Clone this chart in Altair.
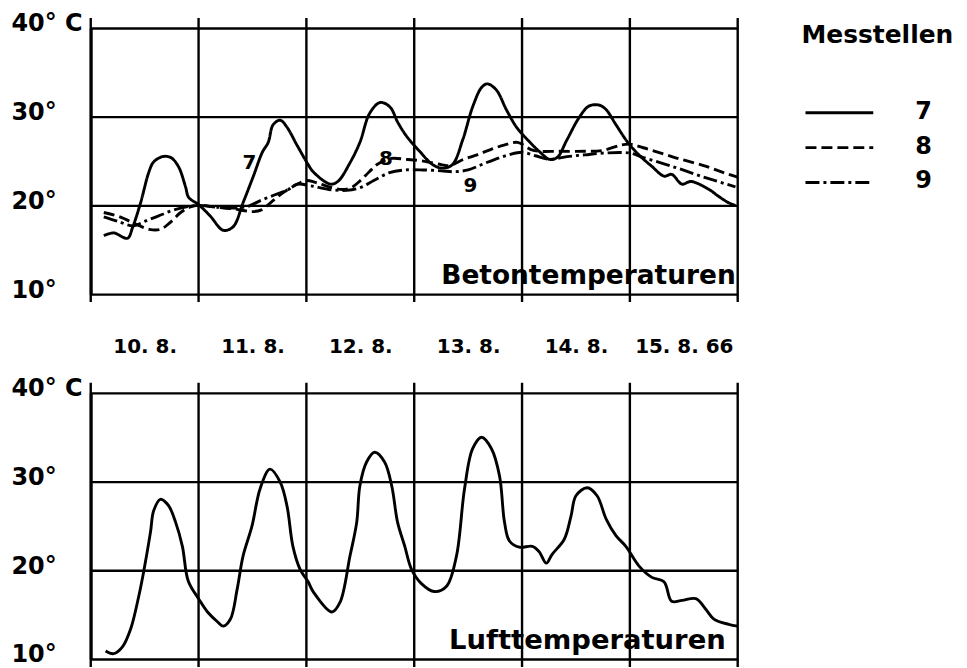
import json
import altair as alt
import pandas as pd

FONT = "DejaVu Sans"

# ---- data ----
day_labels = ["10. 8.", "11. 8.", "12. 8.", "13. 8.", "14. 8.", "15. 8. 66"]
day_bounds = [0, 24, 48, 72, 96, 120, 144]
label_hours = [12, 36, 60, 84, 108, 132]
y_ticks = [10, 20, 30, 40]
y_tick_labels = ["10°", "20°", "30°", "40° C"]
series_names = ["7", "8", "9"]
legend_title = "Messtellen"

# Messstelle 7 (solid)
t7_h = [2.9, 5.1, 8.2, 9.3, 11.1, 12.9, 14.0, 16.0, 17.8, 19.5, 21.1, 21.8, 24.0, 26.6,
        29.5, 31.7, 33.9, 36.2, 38.2, 39.5, 40.6, 42.2, 43.7, 45.9, 48.4, 49.5, 53.3,
        55.0, 57.7, 59.9, 62.1, 64.4, 66.6, 68.3, 70.3, 73.2, 76.1, 78.3, 80.5, 82.8,
        85.0, 87.0, 88.3, 90.3, 92.5, 94.8, 97.6, 99.8, 102.1, 103.8, 106.0, 108.7,
        110.9, 113.2, 114.7, 116.9, 119.4, 122.0, 124.9, 127.6, 129.3, 131.6, 133.6,
        137.6, 139.8, 142.0, 143.5]
t7_v = [16.6, 16.9, 16.3, 17.5, 20.3, 23.7, 24.9, 25.5, 25.4, 24.4, 22.1, 20.9, 20.1, 18.8,
        17.2, 17.6, 20.3, 23.3, 26.0, 27.1, 29.1, 29.6, 28.8, 26.8, 24.6, 23.8, 22.4,
        22.7, 24.8, 27.1, 30.4, 31.6, 31.1, 29.4, 27.8, 26.1, 24.6, 24.2, 24.6, 27.4,
        31.1, 33.3, 33.7, 33.0, 30.8, 28.8, 27.2, 26.1, 25.2, 25.4, 27.4, 29.9,
        31.2, 31.3, 30.8, 29.1, 27.2, 25.7, 24.4, 23.3, 23.5, 22.4, 22.7,
        21.8, 21.0, 20.3, 20.0]

# Messstelle 8 (dashed)
t8_h = [2.9, 6.5, 10.0, 13.0, 15.5, 17.5, 20.0, 22.0, 24.0, 28.0, 32.0, 36.0, 38.0, 40.0,
        43.0, 46.0, 48.0, 50.0, 53.0, 56.0, 58.0, 60.0, 62.0, 64.0, 67.0, 70.0, 74.0,
        78.0, 80.0, 83.0, 86.0, 89.0, 92.0, 95.0, 98.0, 100.0, 104.0, 110.0, 114.0,
        118.0, 120.0, 123.0, 130.0, 137.0, 142.0, 144.0]
t8_v = [19.2, 18.7, 17.9, 17.3, 17.3, 18.0, 19.2, 19.8, 20.0, 19.8, 19.6, 19.3, 19.5, 20.3,
        21.5, 22.4, 22.8, 22.6, 22.1, 21.8, 22.0, 22.8, 23.8, 24.7, 25.3, 25.2, 25.0,
        24.6, 24.5, 25.2, 25.7, 26.3, 26.8, 27.1, 26.3, 26.1, 26.1, 26.1, 26.2,
        26.8, 26.9, 26.5, 25.4, 24.4, 23.5, 23.2]

# Messstelle 9 (dash-dot)
t9_h = [2.9, 6.0, 9.5, 12.0, 15.0, 18.0, 21.0, 24.0, 28.0, 32.0, 35.0, 38.0, 41.0, 44.0,
        46.0, 49.0, 53.0, 57.0, 60.0, 63.0, 66.5, 70.0, 74.0, 78.0, 81.0, 84.0, 87.0,
        90.0, 93.0, 96.0, 99.0, 102.0, 106.0, 110.0, 114.0, 120.0, 123.0, 130.0, 137.0,
        143.5]
t9_v = [18.7, 18.2, 17.7, 18.2, 18.8, 19.4, 19.8, 20.0, 19.8, 19.7, 19.9, 20.6, 21.2, 21.8,
        22.4, 22.2, 21.8, 21.7, 22.0, 22.8, 23.7, 24.0, 24.0, 23.9, 23.8, 24.0, 24.6,
        25.2, 25.7, 26.0, 25.6, 25.2, 25.5, 25.7, 25.9, 25.9, 25.4, 24.3, 23.1,
        22.1]

# Lufttemperatur
air_h = [3.3, 5.1, 7.1, 8.9, 10.7, 11.8, 13.3, 14.0, 15.5, 17.3, 18.9, 20.4, 21.7, 24.0,
         26.0, 28.2, 29.5, 31.1, 32.6, 33.9, 35.9, 37.7, 39.9, 42.2, 43.7, 45.0, 46.6,
         48.4, 49.5, 53.7, 55.5, 57.7, 59.2, 59.9, 61.4, 63.2, 65.4, 67.0, 68.3, 69.9,
         71.4, 73.6, 76.5, 79.2, 81.4, 83.2, 85.0, 87.0, 89.2, 91.0, 92.1, 93.2, 95.4,
         98.3, 99.8, 101.4, 102.7, 105.4, 106.9, 108.0, 110.5, 112.7, 114.7, 116.9,
         119.1, 122.0, 124.9, 127.6, 129.3, 131.6, 134.7, 136.9, 138.7, 142.0, 144.0]
air_v = [10.9, 10.6, 11.4, 13.4, 17.1, 19.9, 24.3, 26.7, 28.0, 27.3, 25.4, 22.7, 18.8, 16.8,
         15.3, 14.2, 13.7, 14.5, 17.9, 21.6, 25.0, 29.2, 31.4, 29.9, 27.2, 22.7, 20.1,
         18.7, 17.6, 15.3, 16.4, 21.6, 25.4, 29.5, 32.2, 33.3, 32.2, 29.5, 25.4, 22.7,
         20.1, 18.5, 17.6, 18.2, 21.6, 29.2, 33.7, 35.0, 33.7, 30.6, 25.4, 23.3, 22.6,
         22.7, 22.1, 20.8, 21.8, 23.5, 26.1, 28.4, 29.3, 28.4, 25.8, 23.9,
         22.7, 20.5, 19.2, 18.7, 16.5, 16.6, 16.8, 15.6, 14.5, 13.9, 13.7]

# curve number annotations
note_h = [35.3, 65.7, 84.5]
note_t = [24.8, 25.2, 22.2]

# ---- styling ----
W, H = 649, 267
DASHES = {"7": [1, 0], "8": [11, 5], "9": [14, 4, 3, 4]}
CURVE_W = 2.9

beton = pd.concat([
    pd.DataFrame({"h": t7_h, "t": t7_v, "series": "7"}),
    pd.DataFrame({"h": t8_h, "t": t8_v, "series": "8"}),
    pd.DataFrame({"h": t9_h, "t": t9_v, "series": "9"}),
], ignore_index=True)
air = pd.DataFrame({"h": air_h, "t": air_v})
bounds_df = pd.DataFrame({"h": day_bounds})
notes = pd.DataFrame({"h": note_h, "t": note_t, "label": series_names})

xscale = alt.Scale(domain=[0, 144], nice=False, zero=False)
yscale = alt.Scale(domain=[10, 40], nice=False, zero=False)

y_axis = alt.Axis(values=y_ticks,
                  labelExpr=f"{json.dumps(y_tick_labels)}[round((datum.value-10)/10)]",
                  grid=True, gridColor="black", gridWidth=2.3, gridOpacity=1,
                  domain=True, domainColor="black", domainWidth=3,
                  ticks=False, labelAlign="left", labelPadding=80, labelOffset=-4,
                  labelFont=FONT, labelFontSize=24, labelFontWeight="bold",
                  labelColor="black", labelBaseline="middle", title=None)

x_top = alt.X("h:Q", scale=xscale,
              axis=alt.Axis(values=label_hours,
                            labelExpr=f"{json.dumps(day_labels)}[floor(datum.value/24)]",
                            ticks=False, domain=False, grid=False, labelPadding=43,
                            labelFont=FONT, labelFontSize=20, labelFontWeight="bold",
                            labelColor="black", labelBaseline="top", title=None))
x_bot = alt.X("h:Q", scale=xscale, axis=None)
y_enc = alt.Y("t:Q", scale=yscale, axis=y_axis)


def panel(xenc, line_layer, title_text, size, dx):
    rules = alt.Chart(bounds_df).mark_rule(color="black", strokeWidth=2.4).encode(
        x=xenc, y=alt.value(-10), y2=alt.value(H + 8))
    title = alt.Chart(pd.DataFrame({"h": [144], "t": [10], "label": [title_text]})).mark_text(
        font=FONT, fontSize=size, fontWeight="bold", color="black",
        align="right", baseline="alphabetic", dx=dx, dy=-10).encode(
        x=xenc, y=y_enc, text="label:N")
    return [rules, line_layer, title]


lines_top = alt.Chart(beton).mark_line(color="black", strokeWidth=CURVE_W,
                                       interpolate="catmull-rom").encode(
    x=x_top, y=y_enc,
    strokeDash=alt.StrokeDash(
        "series:N",
        scale=alt.Scale(domain=series_names, range=[DASHES[s] for s in series_names]),
        legend=None),
)
note_layer = alt.Chart(notes).mark_text(font=FONT, fontSize=20, fontWeight="bold",
                                        color="black").encode(
    x=x_top, y=y_enc, text="label:N")

# manual legend (beside the upper panel)
LEG_X, ROW_Y0, ROW_DY = 717, 85, 35
legend_layers = [
    alt.Chart(pd.DataFrame({"label": [legend_title]})).mark_text(
        font=FONT, fontSize=25, fontWeight="bold", color="black",
        align="left", baseline="alphabetic").encode(
        x=alt.value(LEG_X - 4), y=alt.value(15), text="label:N")
]
for i, s in enumerate(series_names):
    yy = ROW_Y0 + i * ROW_DY
    legend_layers.append(
        alt.Chart(pd.DataFrame({"series": [s]})).mark_rule(
            color="black", strokeWidth=CURVE_W, strokeDash=DASHES[s]).encode(
            x=alt.value(LEG_X), x2=alt.value(LEG_X + 68), y=alt.value(yy)))
    legend_layers.append(
        alt.Chart(pd.DataFrame({"series": [s]})).mark_text(
            font=FONT, fontSize=24, fontWeight="bold", color="black",
            align="left", baseline="middle").encode(
            x=alt.value(LEG_X + 110), y=alt.value(yy - 1), text="series:N"))

top_layers = panel(x_top, lines_top, "Betontemperaturen", 26.5, -2) + [note_layer] + legend_layers
top = alt.layer(*top_layers).properties(width=W, height=H)

lines_bot = alt.Chart(air).mark_line(color="black", strokeWidth=CURVE_W,
                                     interpolate="catmull-rom").encode(x=x_bot, y=y_enc)
bottom = alt.layer(*panel(x_bot, lines_bot, "Lufttemperaturen", 27.5, -12)).properties(
    width=W, height=H)

chart = alt.vconcat(top, bottom, spacing=99, bounds="flush").properties(
    padding={"left": 2, "top": 2, "right": 5, "bottom": 0}
).configure_view(stroke=None).configure(background="white")

chart.save("out.html", embed_options={"renderer": "svg", "actions": False})
